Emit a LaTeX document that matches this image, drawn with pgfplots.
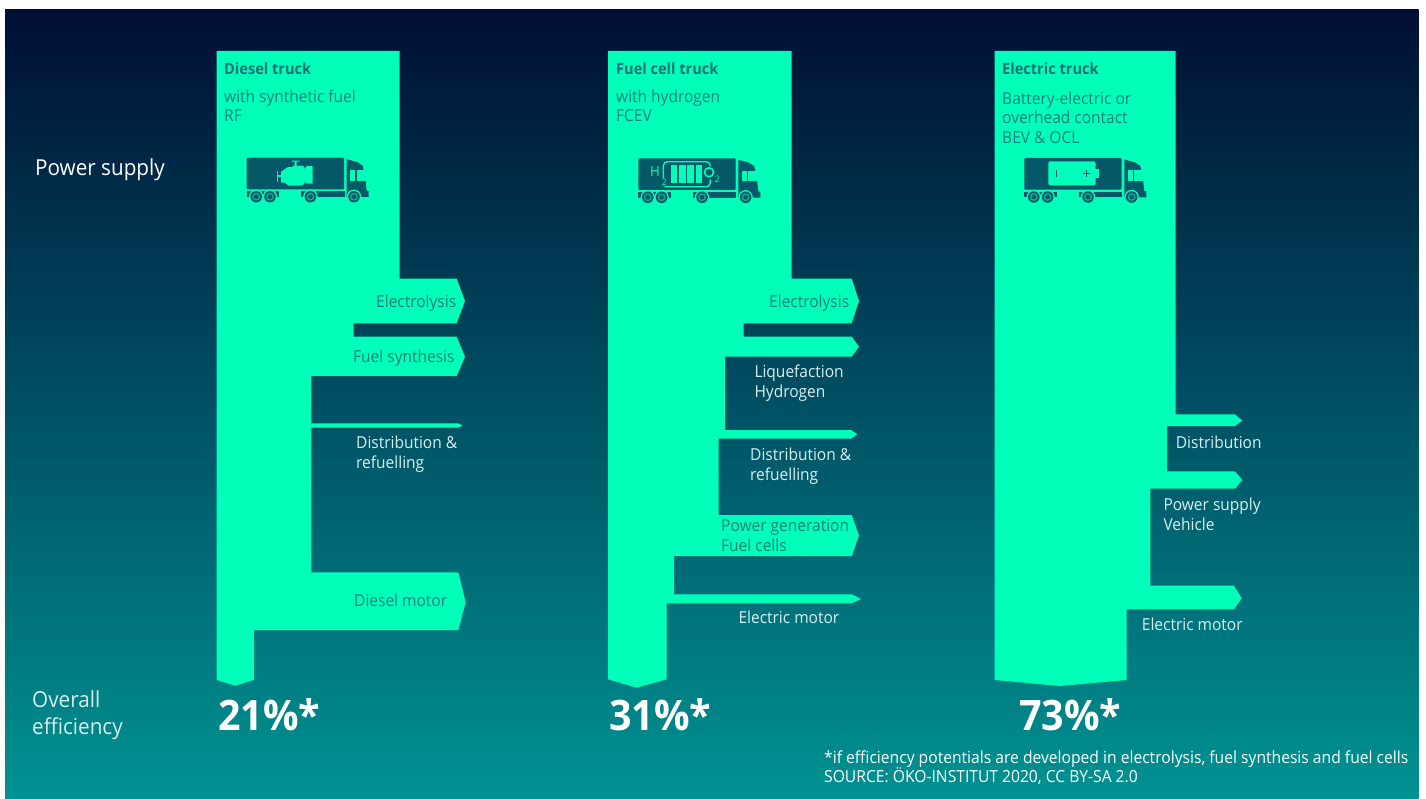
\documentclass[border=0pt]{standalone}
\usepackage{pgfplots}
\usepackage{fontspec}
\pgfplotsset{compat=1.18}
\setmainfont[FakeStretch=0.94]{Open Sans}
\definecolor{flow}{RGB}{0,255,185}
\definecolor{bgtop}{RGB}{0,14,52}
\definecolor{bgbot}{RGB}{0,146,146}
\definecolor{truckdark}{RGB}{4,88,104}
\definecolor{onflow}{RGB}{16,128,124}
\definecolor{onbg}{RGB}{216,240,240}

% Text helpers: x, baseline y, colour, text
\newcommand{\lab}[4]{\node[anchor=base west,inner sep=0pt,yshift=-0.7pt,text=#3,font=\fontsize{16.5}{18}\selectfont] at (axis cs:#1,#2) {#4};}
\newcommand{\bigfig}[3]{\node[anchor=base west,inner sep=0pt,text=white,font=\fontsize{42}{48}\bfseries\selectfont] at (axis cs:#1,#2) {#3};}

% One wheel, at trailer-relative x
\newcommand{\wheel}[1]{%
  \fill[flow] (#1,39) circle (7.2);
  \fill[truckdark] (#1,39) circle (5.8);
  \fill[flow!55!truckdark] (#1,39) circle (3.9);
  \fill[truckdark] (#1,39) circle (2.4);}

% Common truck body; #1 = left x, #2 = top y of the trailer
\newcommand{\truckbody}[2]{%
  \begin{scope}[shift={(axis cs:#1,#2)},x=1pt,y=-1pt]
    \fill[truckdark,rounded corners=1pt] (0,0) rectangle (97.3,31.6);
    \fill[truckdark] (0,33.6) -- (32.6,33.6) -- (32.6,39.3) -- (0,39.3) -- cycle;
    \fill[truckdark] (54.3,33.6) -- (98,33.6) -- (98,39.3) -- (54.3,39.3) -- cycle;
    \fill[truckdark] (100,1.5) -- (111,4.5) -- (116,8) -- (118.5,20) -- (120,33) -- (122,33.5) -- (122,39.3) -- (100,39.3) -- cycle;
    \fill[flow] (103.3,12.5) rectangle (108.6,23);
    \fill[flow] (110,12.5) rectangle (119,23);
    \wheel{9.5}
    \wheel{23.3}
    \wheel{63.7}
    \wheel{107.3}
  \end{scope}}

\begin{document}
\begin{tikzpicture}
% the page keeps a narrow white margin around the panel
\path[fill=white] (0,0) rectangle (1426pt,799pt);
\begin{axis}[
  scale only axis, width=1426pt, height=799pt,
  xmin=0, xmax=1426, ymin=0, ymax=799, y dir=reverse,
  hide axis, clip=false]

% backdrop
\addplot[draw=none, top color=bgtop, bottom color=bgbot]
  coordinates {(5,10) (1418.5,10) (1418.5,798) (5,798)} -- cycle;

% Diesel truck flow
\addplot[fill=flow, draw=none] coordinates {
  (216.7,51) (399.5,51) (399.5,278.7) (456.7,278.7) (465,301) (456.7,323.3)
  (353.7,323.3) (353.7,336.7) (456.7,336.7) (465,356.7) (456.7,376)
  (311.3,376) (311.3,423.3) (458.3,423.3) (462.7,425.5) (458.3,427.7) (311.3,427.7)
  (311.3,572.3) (458.3,572.3) (465.7,602.3) (458.3,630) (254,630)
  (254,680) (235,685.7) (216.7,680)} -- cycle;

% Fuel cell truck flow
\addplot[fill=flow, draw=none] coordinates {
  (608,51) (791.7,51) (791.7,278.7) (851.7,278.7) (859,301) (851.7,323.3)
  (743.7,323.3) (743.7,336.7) (851.7,336.7) (859,346.7) (851.7,356.7)
  (725,356.7) (725,430) (851,430) (857.3,434.3) (851,438.7) (718.7,438.7)
  (718.7,515) (851.7,515) (859,535.7) (851.7,556) (674,556)
  (674,594.3) (851.7,594.3) (861,599) (851.7,603.3) (666.7,603.3)
  (666.7,679.3) (636.7,687.7) (608,679.3)} -- cycle;

% Electric truck flow
\addplot[fill=flow, draw=none] coordinates {
  (994.7,51) (1175.7,51) (1175.7,414.3) (1235,414.3) (1242.3,420.7) (1235,426)
  (1167,426) (1167,471.3) (1235,471.3) (1242.3,480) (1235,488.7)
  (1150.3,488.7) (1150.3,585.7) (1234,585.7) (1241.7,598.3) (1234,609.3)
  (1126.7,609.3) (1126.7,680) (1059.3,686) (994.7,680)} -- cycle;

% Row captions
\node[anchor=base west,inner sep=0pt,text=white,font=\fontsize{22}{26}\selectfont] at (axis cs:35,176) {Power supply};
\node[anchor=base west,inner sep=0pt,text=onbg,font=\fontsize{22}{26}\selectfont] at (axis cs:32,707) {Overall};
\node[anchor=base west,inner sep=0pt,text=onbg,font=\fontsize{22}{26}\selectfont] at (axis cs:32,734) {efficiency};

% Column headings
\node[anchor=base west,inner sep=0pt,text=onflow!70!truckdark,font=\fontsize{15.5}{18}\bfseries\selectfont] at (axis cs:224,74.7) {Diesel truck};
\lab{224}{101.7}{onflow}{with synthetic fuel}
\lab{224}{121}{onflow}{RF}
\node[anchor=base west,inner sep=0pt,text=onflow!70!truckdark,font=\fontsize{15.5}{18}\bfseries\selectfont] at (axis cs:616,74.7) {Fuel cell truck};
\lab{616}{101.7}{onflow}{with hydrogen}
\lab{616}{121}{onflow}{FCEV}
\node[anchor=base west,inner sep=0pt,text=onflow!70!truckdark,font=\fontsize{15.5}{18}\bfseries\selectfont] at (axis cs:1002,74.7) {Electric truck};
\lab{1002}{104}{onflow}{Battery-electric or}
\lab{1002}{123}{onflow}{overhead contact}
\lab{1002}{143}{onflow}{BEV \& OCL}

% Stage labels, diesel
\lab{376}{306.7}{onflow}{Electrolysis}
\lab{353}{361.7}{onflow}{Fuel synthesis}
\lab{356}{447.7}{onbg}{Distribution \&}
\lab{356}{467.7}{onbg}{refuelling}
\lab{354}{605.7}{onflow}{Diesel motor}

% Stage labels, fuel cell
\lab{769}{306.7}{onflow}{Electrolysis}
\lab{754.3}{376.7}{onbg}{Liquefaction}
\lab{754.3}{396.7}{onbg}{Hydrogen}
\lab{750}{460}{onbg}{Distribution \&}
\lab{750}{480}{onbg}{refuelling}
\lab{721}{530.7}{onflow}{Power generation}
\lab{721}{551}{onflow}{Fuel cells}
\lab{738.3}{622.3}{onbg}{Electric motor}

% Stage labels, electric
\lab{1175.7}{447.3}{onbg}{Distribution}
\lab{1163.3}{509.3}{onbg}{Power supply}
\lab{1163.3}{529.3}{onbg}{Vehicle}
\lab{1141.7}{629.5}{onbg}{Electric motor}

% Efficiency figures
\bigfig{218}{730}{21\%*}
\bigfig{609}{730}{31\%*}
\bigfig{1019}{730}{73\%*}

% Footnote
\node[anchor=base west,inner sep=0pt,text=white,font=\fontsize{16.65}{18}\selectfont] at (axis cs:824,763) {*if efficiency potentials are developed in electrolysis, fuel synthesis and fuel cells};
\node[anchor=base west,inner sep=0pt,text=white,font=\fontsize{16.65}{18}\selectfont] at (axis cs:824,782) {SOURCE: ÖKO-INSTITUT 2020, CC BY-SA 2.0};

% Truck icons
\truckbody{246.7}{157.7}
\begin{scope}[shift={(axis cs:246.7,157.7)},x=1pt,y=-1pt]
  % combustion engine
  \fill[flow] (34.5,14) -- (41,9.5) -- (46,9.5) -- (46,8) -- (48,8) -- (48,4) -- (45,4) -- (45,3) -- (53,3) -- (53,4) -- (50,4) -- (50,8) -- (56,8) -- (58,10) -- (58,11.5) -- (60,8.5) -- (66,8.5) -- (66,26) -- (60,26) -- (58,24) -- (58,26) -- (54,28) -- (42,28) -- (38,25) -- (34.5,25) -- cycle;
  \fill[flow] (30,13) rectangle (31,24);
  \fill[flow] (30,17.8) rectangle (35,19);
\end{scope}

\truckbody{638.3}{158.3}
\begin{scope}[shift={(axis cs:638.3,158.3)},x=1pt,y=-1pt]
  % stack of fuel cells with its loop
  \fill[flow] (32.3,6.7) rectangle (38.8,24.3);
  \fill[flow] (41,6.7) rectangle (47.5,24.3);
  \fill[flow] (49,6.7) rectangle (55.5,24.3);
  \fill[flow] (57.3,6.7) rectangle (63.8,24.3);
  \draw[flow,line width=1.4pt,rounded corners=4pt] (25,20) -- (25,3.5) -- (72,3.5) -- (72,8);
  \draw[flow,line width=1.4pt,rounded corners=4pt] (26,28.5) -- (72,28.5) -- (72,21);
  \draw[flow,line width=1.6pt] (70.7,14) circle (4.5);
  \node[text=flow,inner sep=0pt,font=\fontsize{14}{14}\selectfont] at (16.7,13) {H};
  \node[text=flow,inner sep=0pt,font=\fontsize{9}{9}\selectfont] at (26,23.5) {2};
  \node[text=flow,inner sep=0pt,font=\fontsize{9}{9}\selectfont] at (79,21) {2};
\end{scope}

\truckbody{1024.3}{158}
\begin{scope}[shift={(axis cs:1024.3,158)},x=1pt,y=-1pt]
  % battery
  \fill[flow,rounded corners=2pt] (24,3.3) rectangle (71.3,27.3);
  \fill[flow] (71,10.7) rectangle (74.7,20);
  \fill[truckdark] (31.2,12.5) rectangle (32.2,19);
  \fill[truckdark] (58.2,15.2) rectangle (65.2,16.2);
  \fill[truckdark] (61.2,12.2) rectangle (62.2,19.2);
\end{scope}
\end{axis}
\end{tikzpicture}
\end{document}
